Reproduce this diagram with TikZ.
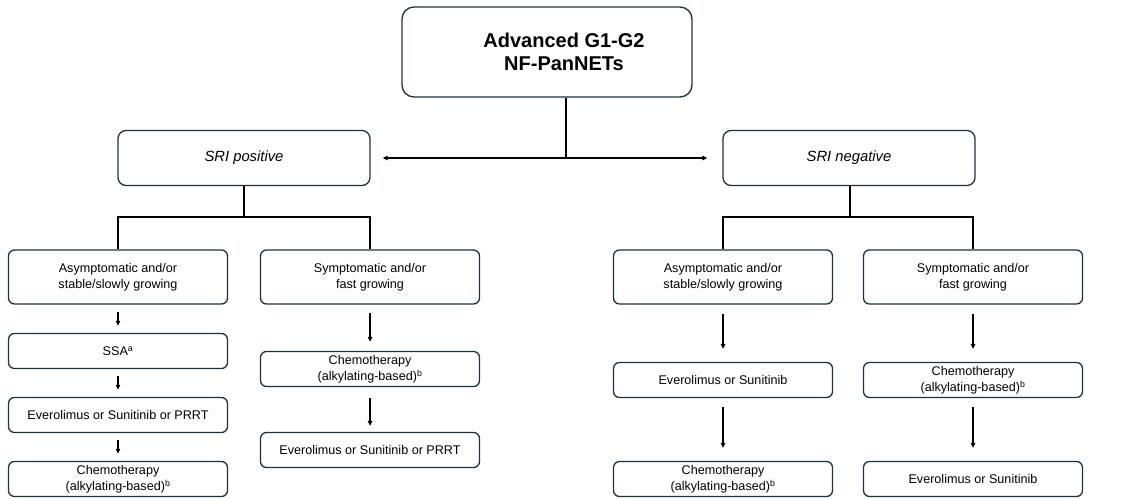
\documentclass[tikz,border=0pt]{standalone}
\usepackage{fontspec}
\setmainfont{Liberation Sans}
\definecolor{boxnavy}{HTML}{1B3340}
\usetikzlibrary{positioning,arrows.meta,calc}

\begin{document}
\begin{tikzpicture}[
  x=1pt, y=-1pt,
  font=\fontsize{12.6}{16.5}\selectfont,
  box/.style={draw=boxnavy, line width=1.3pt, rounded corners=6pt, align=center, minimum width=219pt, inner sep=2pt},
  tall/.style={box, minimum height=54pt},
  short/.style={box, minimum height=35pt},
  sri/.style={box, minimum width=252pt, minimum height=55pt, rounded corners=8pt, font=\fontsize{14.8}{17}\selectfont\itshape},
  arr/.style={-{Triangle[length=5pt, width=4.5pt]}, line width=1.2pt, shorten <=7pt, shorten >=7pt},
  tree/.style={line width=1.2pt},
]
  \useasboundingbox (0,0) rectangle (1123,498);
  % top level
  \node[draw=boxnavy, line width=1.3pt, rounded corners=12pt, align=center, minimum width=290pt, minimum height=90pt, font=\fontsize{20}{23}\selectfont\bfseries] (top) at (547,52) {\hspace*{34pt}Advanced G1-G2\\\hspace*{34pt}NF-PanNETs};
  \node[sri] (pos) at (244,158) {SRI positive};
  \node[sri] (neg) at (849,158) {SRI negative};
  \coordinate (split) at (566,159);
  \draw[tree] (top.south -| split) -- (split);
  \draw[{Triangle[length=5pt, width=4.5pt]}-{Triangle[length=5pt, width=4.5pt]}, line width=1.2pt, shorten <=12pt, shorten >=15pt] (pos.east) -- (neg.west);
  % SRI positive branch
  \node[tall]  (l1)  at (118,277) {Asymptomatic and/or\\stable/slowly growing};
  \node[short] (l1a) at (118,351) {SSA\textsuperscript{a}};
  \node[short] (l1b) at (118,415) {Everolimus or Sunitinib or PRRT};
  \node[short] (l1c) at (118,479) {Chemotherapy\\(alkylating-based)\textsuperscript{b}};
  \node[tall]  (l2)  at (370,277) {Symptomatic and/or\\fast growing};
  \node[short] (l2a) at (370,369) {Chemotherapy\\(alkylating-based)\textsuperscript{b}};
  \node[short] (l2b) at (370,450) {Everolimus or Sunitinib or PRRT};
  \coordinate (posfork) at (244,217);
  \draw[tree] (pos.south) -- (posfork);
  \draw[tree] (l1.north) |- (posfork) -| (l2.north);
  \draw[arr] (l1) -- (l1a);
  \draw[arr] (l1a) -- (l1b);
  \draw[arr] (l1b) -- (l1c);
  \draw[arr, shorten <=8pt, shorten >=9pt] (l2) -- (l2a);
  \draw[arr, shorten <=11pt, shorten >=6pt] (l2a) -- (l2b);
  % SRI negative branch
  \node[tall]  (r1)  at (723,277) {Asymptomatic and/or\\stable/slowly growing};
  \node[short] (r1a) at (723,380) {Everolimus or Sunitinib};
  \node[short] (r1b) at (723,479) {Chemotherapy\\(alkylating-based)\textsuperscript{b}};
  \node[tall]  (r2)  at (973,277) {Symptomatic and/or\\fast growing};
  \node[short] (r2a) at (973,380) {Chemotherapy\\(alkylating-based)\textsuperscript{b}};
  \node[short] (r2b) at (973,479) {Everolimus or Sunitinib};
  \coordinate (negfork) at (850,217);
  \draw[tree] (neg.south -| negfork) -- (negfork);
  \draw[tree] (r1.north) |- (negfork) -| (r2.north);
  \foreach \a/\b in {r1/r1a, r1a/r1b, r2/r2a, r2a/r2b}
    \draw[arr, shorten <=9pt, shorten >=13pt] (\a) -- (\b);
\end{tikzpicture}
\end{document}
